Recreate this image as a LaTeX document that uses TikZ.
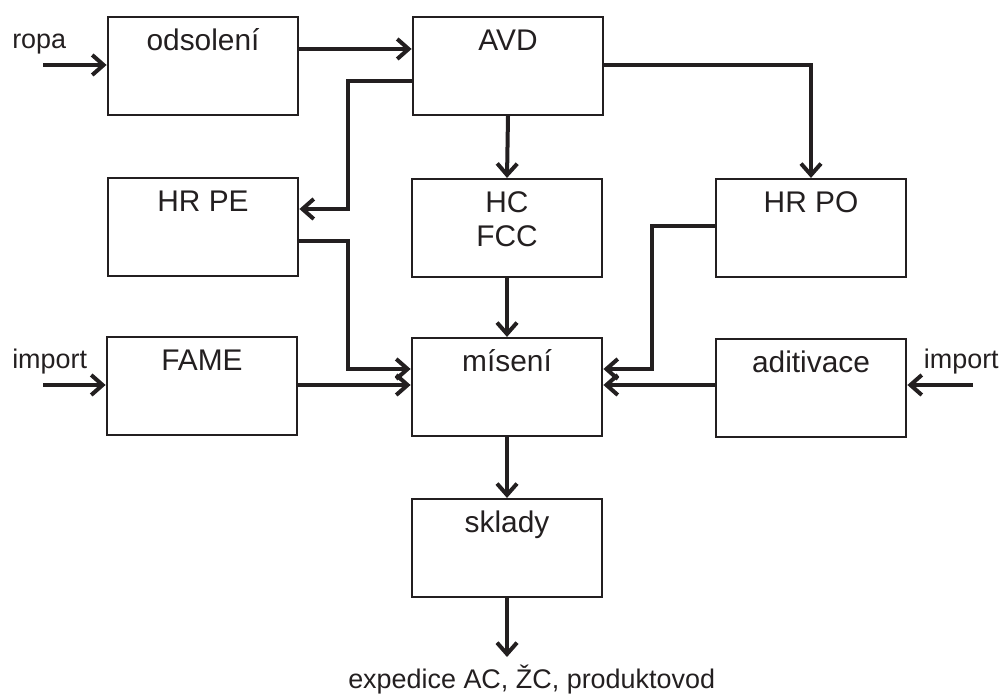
\documentclass[tikz,border=0pt]{standalone}
\usepackage{fontspec}
\setmainfont{Liberation Sans}
\usetikzlibrary{arrows.meta,positioning,calc}
\definecolor{ink}{RGB}{35,31,32}

\begin{document}
\begin{tikzpicture}[x=0.75pt,y=-0.75pt,
  box/.style={draw=ink,line width=1.6pt,minimum width=143pt,minimum height=73.5pt,inner sep=0pt},
  boxtext/.style={anchor=base,font=\fontsize{22.4}{25.5}\selectfont,text=ink,align=center,inner sep=0pt},
  lbl/.style={font=\fontsize{20.2}{24}\selectfont,text=ink,inner sep=0pt},
  arr/.style={draw=ink,line width=3pt,-{Straight Barb[length=8.5pt,width=15pt]}}]
  \useasboundingbox (0,0) rectangle (1004,695);

  % Units (last field: depth of the last text line below the box top)
  \foreach \n/\x/\y/\t/\d in {ods/203/66/odsolení/26.25, avd/508/66/AVD/26.25,
      hrpe/203/227/HR PE/26.25, hcfcc/507/228/HC\\FCC/51.75, hrpo/811/228/HR PO/26.25,
      fame/202/386/FAME/26.25, mis/507/387/mísení/26.25,
      adit/811/388/aditivace/26.25, skl/507/548/sklady/26.25} {
    \node[box] (\n) at (\x,\y) {};
    \node[boxtext] (\n-t) at ([yshift=-\d pt]\n.north) {\t};
  }

  % Inputs
  \node[lbl,anchor=base west] (ropa) at (12,49) {ropa};
  \coordinate (ropa-in) at (43,65);
  \draw[arr] (ropa-in) -- (ropa-in -| ods.west);
  \node[lbl,anchor=base west] (imp-l) at (12,369) {import};
  \coordinate (imp-l-in) at (43,385);
  \draw[arr] (imp-l-in) -- (imp-l-in -| fame.west);
  \node[lbl,anchor=base east] (imp-r) at (999,369) {import};
  \coordinate (imp-r-in) at (973,385);
  \draw[arr] (imp-r-in) -- (imp-r-in -| adit.east);

  % Flows from AVD
  \draw[arr] (ods.east |- 0,49) -- (avd.west |- 0,49);
  \draw[arr] (avd.east |- 0,65) -| (hrpo.north);
  \draw[arr] (avd.south) -- (hcfcc.north);
  \draw[arr] (avd.west |- 0,81) -| (348,145) |- (hrpe.east |- 0,209);

  % Flows into mixing
  \draw[arr] (hrpe.east |- 0,241) -| (348,300) |- (mis.west |- 0,369);
  \draw[arr] (hcfcc.south) -- (mis.north);
  \draw[arr] (hrpo.west |- 0,226) -| (652,300) |- (mis.east |- 0,369);
  \draw[arr] (fame.east |- 0,385) -- (mis.west |- 0,385);
  \draw[arr] (adit.west |- 0,385) -- (mis.east |- 0,385);

  % Output
  \draw[arr] (mis.south) -- (skl.north);
  \coordinate (exp-end) at (507,657);
  \draw[arr] (skl.south) -- (exp-end);
  \node[lbl,anchor=base west] (exp) at (348,688) {expedice AC, ŽC, produktovod};
\end{tikzpicture}
\end{document}
